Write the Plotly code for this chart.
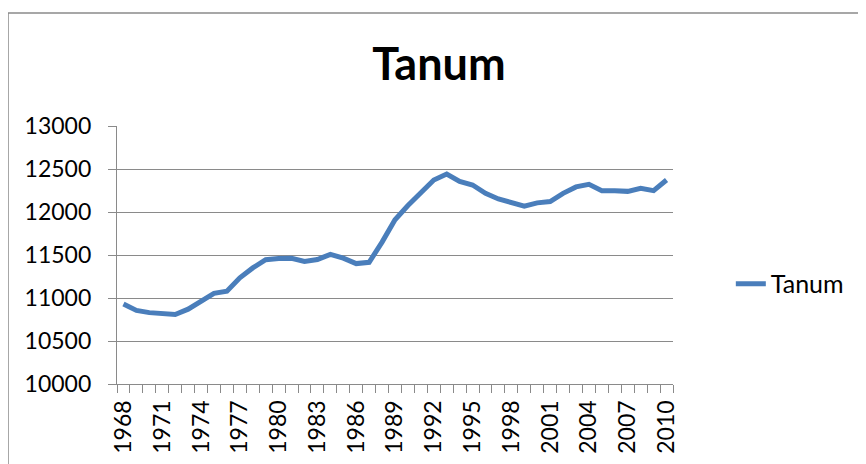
import plotly.graph_objects as go

years = list(range(1968, 2011))
population = [10930, 10855, 10830, 10815, 10808, 10870, 10962, 11055, 11080, 11235,
              11350, 11445, 11460, 11462, 11425, 11448, 11508, 11463, 11400, 11415,
              11650, 11910, 12075, 12217, 12372, 12442, 12356, 12314, 12217, 12152,
              12106, 12068, 12106, 12121, 12217, 12292, 12322, 12248, 12248, 12240,
              12276, 12248, 12372]
tick_years = list(range(1968, 2011, 3))
y_ticks = [10000, 10500, 11000, 11500, 12000, 12500, 13000]

FONT = "Lato"
GRAY = "#8a8a8a"

# page body has an 8px margin; figure is sized/positioned to compensate
W, H = 858, 456
L, T = 109, 118
PW, PH = 556, 258

fig = go.Figure()
fig.add_trace(go.Scatter(
    x=years, y=population, mode="lines", name="Tanum",
    line=dict(color="#4a7ebb", width=5),
))

fig.update_layout(
    width=W, height=H,
    paper_bgcolor="white", plot_bgcolor="white",
    margin=dict(l=L, r=W - L - PW, t=T, b=H - T - PH, autoexpand=False),
    font=dict(family=FONT, size=23, color="black"),
    title=dict(text="<b>Tanum</b>", x=(439 - 8) / W, xref="container", xanchor="center",
               y=1 - (64 - 8) / H, yref="container", yanchor="middle",
               font=dict(family=FONT, size=45, color="black")),
    showlegend=True,
    legend=dict(x=1.104, xanchor="left", y=0.388, yanchor="middle",
                font=dict(family=FONT, size=25), bgcolor="rgba(0,0,0,0)"),
    xaxis=dict(
        range=[1967.5, 2010.5], tickmode="array", tickvals=tick_years,
        ticktext=[str(y) for y in tick_years], tickangle=-90, ticks="",
        showgrid=False, showline=True, linecolor=GRAY, linewidth=1.3,
        zeroline=False, fixedrange=True, ticklabelstandoff=6,
        minor=dict(tickmode="linear", tick0=1967.5, dtick=1, ticks="outside",
                   ticklen=8, tickcolor=GRAY, tickwidth=1.3, showgrid=False),
    ),
    yaxis=dict(
        range=[10000, 13000], tickmode="array", tickvals=y_ticks,
        ticktext=[str(v) for v in y_ticks],
        ticks="outside", ticklen=8, tickcolor=GRAY, tickwidth=1.3,
        showgrid=True, gridcolor=GRAY, gridwidth=1.3,
        showline=True, linecolor=GRAY, linewidth=1.3, zeroline=False,
        ticklabelstandoff=12,
    ),
    shapes=[dict(type="rect", xref="paper", yref="paper",
                 x0=(0 - L) / PW, x1=(W + 20 - L) / PW,
                 y0=-(H - T - PH + 20) / PH, y1=(T + PH - 5) / PH,
                 line=dict(color=GRAY, width=1.5), fillcolor="rgba(0,0,0,0)",
                 layer="below")],
)

fig.write_html("out.html")
